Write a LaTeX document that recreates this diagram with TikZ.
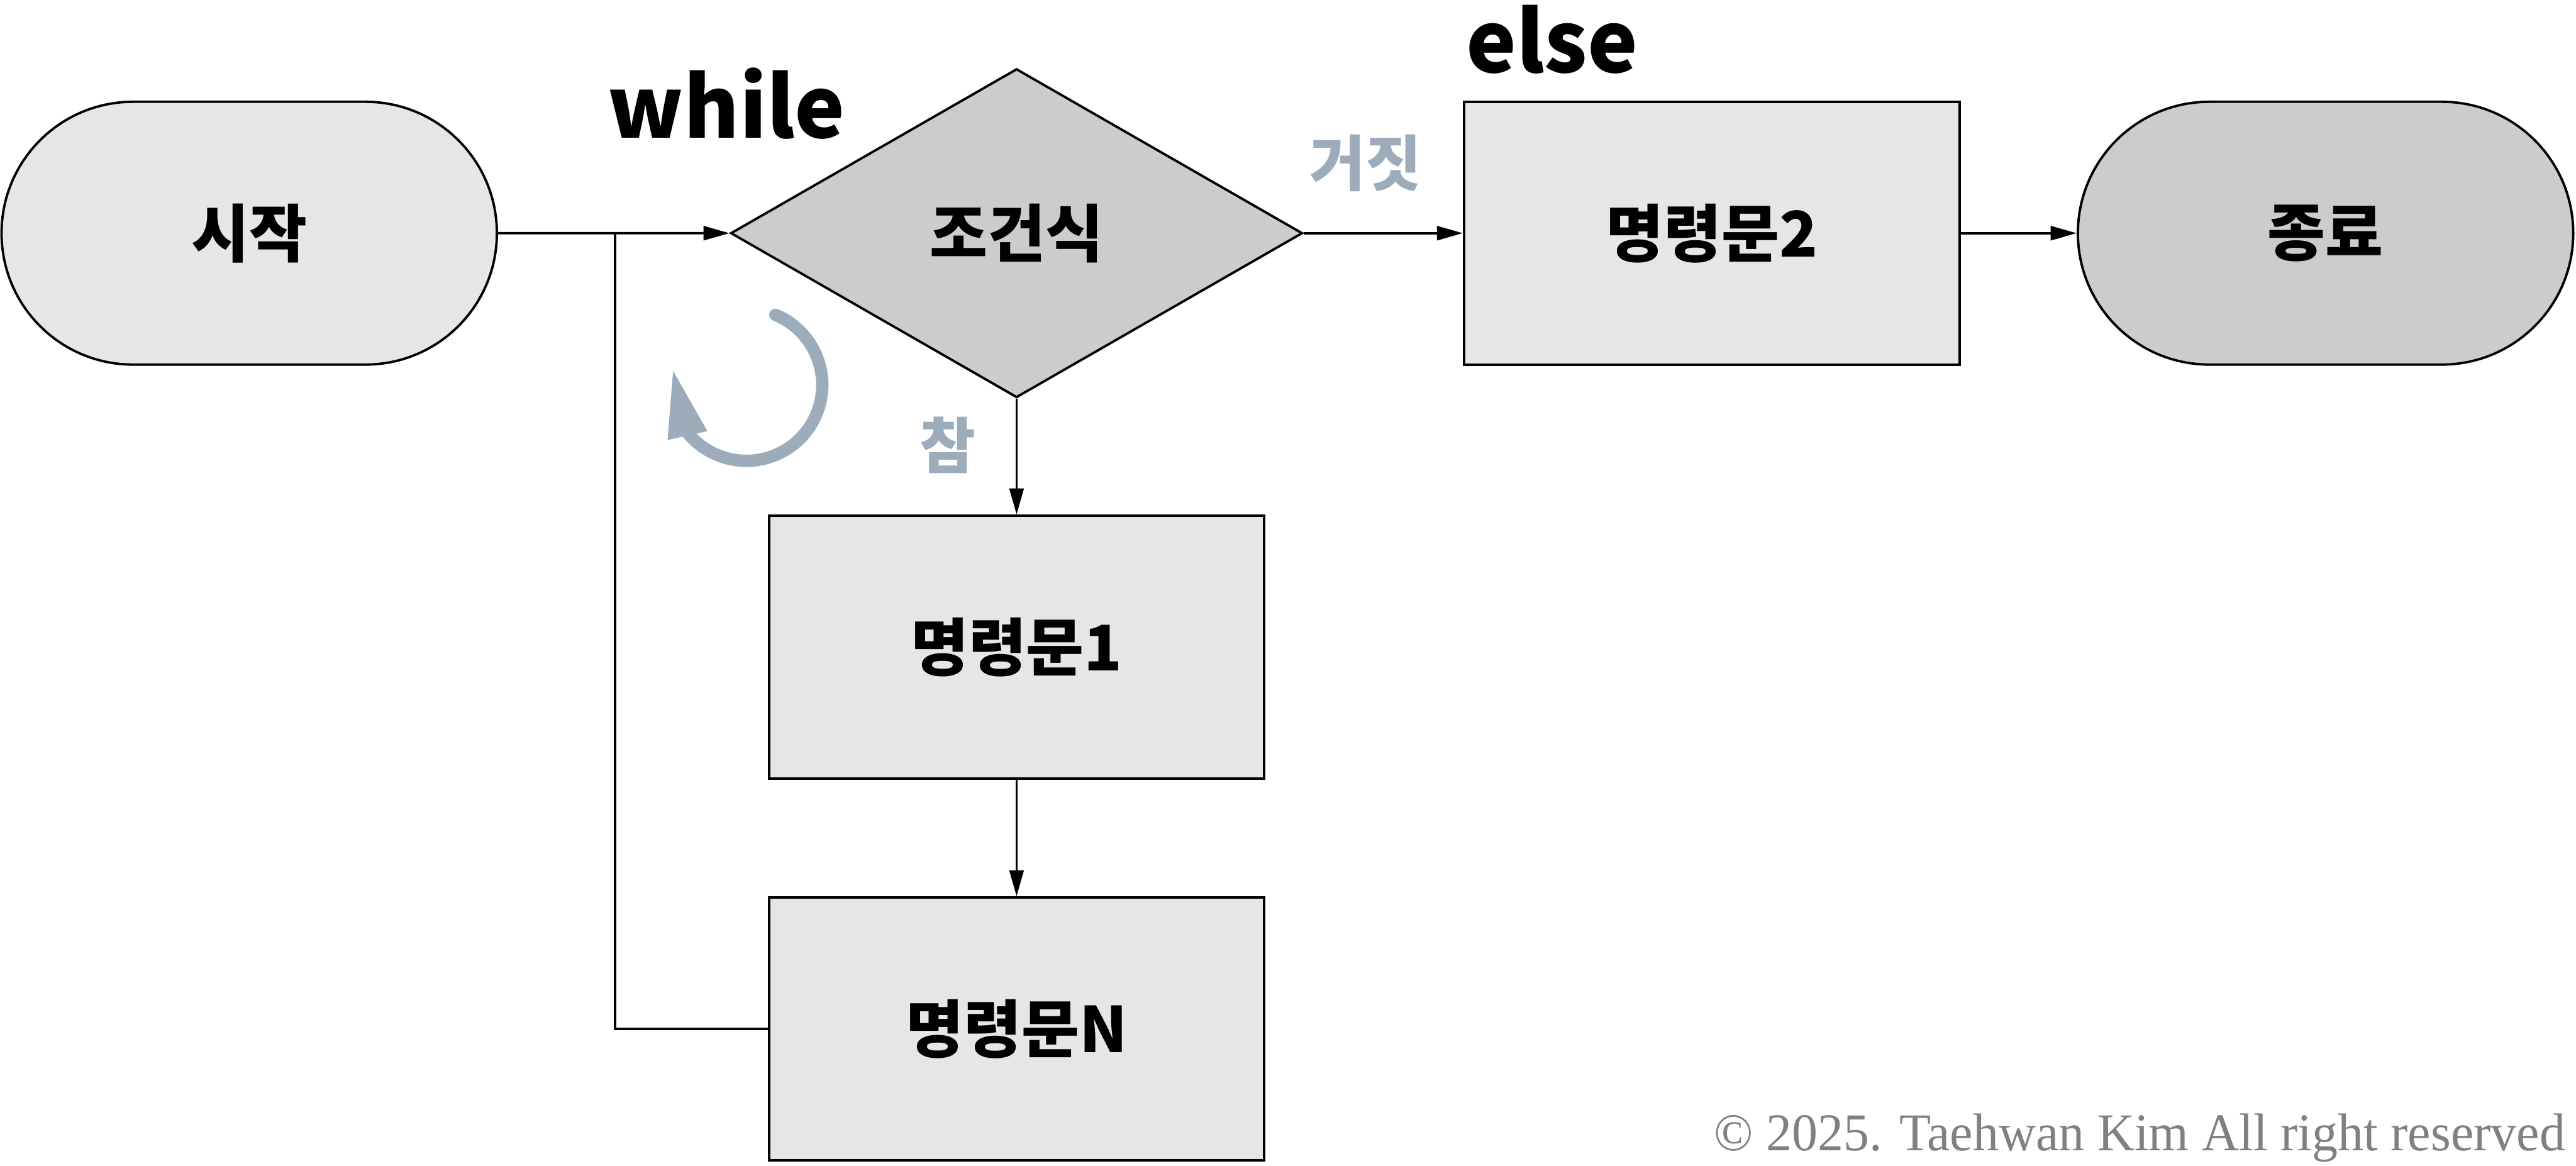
\documentclass[tikz,border=0pt]{standalone}
\usepackage{fontspec}
\setmainfont{Noto Sans CJK KR}
\newfontfamily\notefont{Liberation Serif}[FakeStretch=0.97]
\usetikzlibrary{arrows.meta,shapes.geometric,shapes.misc,bending}
\definecolor{boxgray}{HTML}{E6E6E6}
\definecolor{termgray}{HTML}{CCCCCC}
\definecolor{labblue}{HTML}{9DACBB}
\definecolor{notegray}{HTML}{808080}

\begin{document}
\begin{tikzpicture}[
  x=1cm,y=1cm,
  box/.style={draw, line width=1.1pt, fill=boxgray, minimum width=8.03cm, minimum height=4.26cm, inner sep=0pt, font=\fontsize{29}{34}\selectfont\bfseries},
  term/.style={box, rounded rectangle},
  decision/.style={box, diamond, fill=termgray, minimum width=9.27cm, minimum height=5.33cm},
  arr/.style={-{Triangle[length=12pt,width=6.5pt]}, line width=1.1pt},
  lab/.style={text=labblue, font=\fontsize{28}{32}\selectfont\bfseries},
  kw/.style={anchor=base, font=\fontsize{39}{44}\selectfont\bfseries},
  loopmark/.style={draw=labblue, line width=5.7pt, line cap=round, -{Triangle[length=32pt,width=17pt,flex]}}
]
\useasboundingbox (0,0) rectangle (41.76,-18.90);
\node[term] (start) at (4.04,-3.78) {시작};
\node[decision] (cond) at (16.48,-3.78) {조건식};
\node[box] (stmtB) at (27.75,-3.78) {명령문2};
\node[term, fill=termgray] (finish) at (37.70,-3.78) {종료};
\node[box] (stmtA) at (16.48,-10.49) {명령문1};
\node[box] (stmtN) at (16.48,-16.68) {명령문N};
\coordinate (join) at (9.97,-3.78);
\draw[arr] (start) -- (cond);
\draw[arr] (cond) -- (stmtB);
\draw[arr] (stmtB) -- (finish);
\draw[arr] (cond) -- (stmtA);
\draw[arr] (stmtA) -- (stmtN);
\draw[line width=1.1pt] (stmtN.west) -| (join);
\node[kw] (kwwhile) at (11.78,-2.24) {while};
\node[kw] (kwelse) at (25.16,-1.18) {else};
\node[lab] (lfalse) at (22.14,-2.64) {거짓};
\node[lab] (ltrue) at (15.36,-7.22) {참};
\coordinate (loopc) at (12.10,-6.24);
\draw[loopmark] (loopc) ++(67.6:1.23) arc[start angle=67.6, end angle=-193, radius=1.23];
\node[anchor=base east, text=notegray, font=\notefont\fontsize{24.5}{28}\selectfont] (note) at (41.71,-18.65) {© 2025. Taehwan Kim All right reserved};
\end{tikzpicture}
\end{document}
